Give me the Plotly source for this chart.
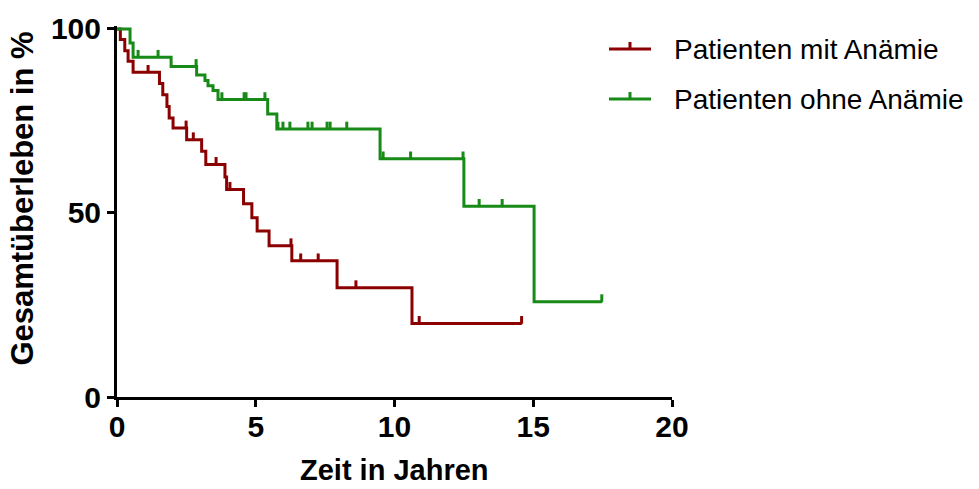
import numpy as np
import plotly.graph_objects as go

# Kaplan-Meier data: overall survival (%) over years
series_names = ["Patienten mit Anämie", "Patienten ohne Anämie"]
series_colors = ["#8b0000", "#178a17"]

# Patients with anemia
anemia_event_years = [0.12, 0.28, 0.40, 0.58, 1.53, 1.65, 1.80, 1.88, 2.02, 2.51,
                      3.05, 3.20, 3.89, 3.95, 4.56, 4.86, 5.05, 5.48, 6.30, 7.93, 10.63]
anemia_survival = [97.1, 94.1, 91.2, 88.2, 85.2, 82.1, 78.9, 75.8, 73.1, 69.9,
                   66.8, 63.2, 59.8, 56.4, 52.5, 48.7, 45.1, 41.1, 37.0, 29.7, 20.0]
anemia_censored_years = [1.12, 2.49, 2.75, 3.57, 4.07, 6.27, 6.62, 7.25, 8.61, 10.89, 14.58]
anemia_last_year = 14.58

# Patients without anemia
no_anemia_event_years = [0.47, 0.58, 1.95, 2.87, 3.17, 3.28, 3.46, 3.64, 5.43, 5.76,
                         9.48, 12.50, 15.03]
no_anemia_survival = [96.2, 92.3, 89.8, 87.5, 86.0, 84.6, 83.3, 80.8, 76.9, 72.8,
                      64.7, 51.8, 25.9]
no_anemia_censored_years = [0.76, 1.48, 2.85, 3.78, 4.58, 4.65, 5.33, 5.80, 5.98, 6.23,
                            6.88, 7.03, 7.57, 7.68, 8.28, 9.59, 10.58, 12.47, 13.05,
                            13.88, 17.47]
no_anemia_last_year = 17.47

x_ticks = [0, 5, 10, 15, 20]
y_ticks = [0, 50, 100]

groups = [
    (anemia_event_years, anemia_survival, anemia_censored_years, anemia_last_year),
    (no_anemia_event_years, no_anemia_survival, no_anemia_censored_years, no_anemia_last_year),
]


def survival_at(event_years, survival, t):
    idx = np.searchsorted(event_years, t, side="right") - 1
    return 100.0 if idx < 0 else survival[idx]


FAMILY = "Liberation Sans, Arial, sans-serif"
TICK_FONT = dict(family=FAMILY, size=30, color="black", weight="bold")
TITLE_FONT = dict(family=FAMILY, size=31, color="black", weight="bold")
XTITLE_FONT = dict(family=FAMILY, size=29, color="black", weight="bold")
LEGEND_FONT = dict(family=FAMILY, size=28, color="black")

fig = go.Figure()

for (ev_t, ev_s, cens_t, last_t), name, color in zip(groups, series_names, series_colors):
    xs = [0.0] + list(ev_t) + [last_t]
    ys = [100.0] + list(ev_s) + [ev_s[-1]]
    fig.add_trace(go.Scatter(
        x=xs, y=ys, mode="lines", name=name, showlegend=False,
        line=dict(color=color, width=3, shape="hv"),
    ))
    # censoring marks as short upward ticks
    cy = [survival_at(ev_t, ev_s, t) for t in cens_t]
    fig.add_trace(go.Scatter(
        x=cens_t, y=cy, mode="markers", showlegend=False, cliponaxis=False,
        marker=dict(size=2, color=color),
        error_y=dict(type="constant", symmetric=False, value=2.0, valueminus=0,
                     width=0, thickness=3, color=color),
    ))

# legend drawn as line + tick + label
legend_y = [0.938, 0.803]
for name, color, ly in zip(series_names, series_colors, legend_y):
    fig.add_shape(type="line", xref="paper", yref="paper", x0=0.8865, x1=0.9622,
                  y0=ly, y1=ly, line=dict(color=color, width=3))
    fig.add_shape(type="line", xref="paper", yref="paper", x0=0.9243, x1=0.9243,
                  y0=ly, y1=ly + 0.019, line=dict(color=color, width=3))
    fig.add_annotation(text=name, xref="paper", yref="paper", x=1.0, y=ly,
                       xanchor="left", yanchor="middle", showarrow=False, font=LEGEND_FONT)

fig.add_annotation(text="Gesamtüberleben in %", xref="paper", yref="paper",
                   x=-0.171, y=0.535, textangle=-90, showarrow=False,
                   xanchor="center", yanchor="middle", font=TITLE_FONT)
fig.add_annotation(text="Zeit in Jahren", xref="paper", yref="paper",
                   x=0.5, y=-0.197, showarrow=False,
                   xanchor="center", yanchor="middle", font=XTITLE_FONT)

fig.update_xaxes(range=[0, 20], tickvals=x_ticks, ticks="outside", ticklen=7,
                 tickwidth=3, tickcolor="black", showline=True, linewidth=3,
                 linecolor="black", showgrid=False, zeroline=False, tickfont=TICK_FONT,
                 ticklabelstandoff=-6)
fig.update_yaxes(range=[0, 100.8], tickvals=y_ticks, ticks="outside", ticklen=7,
                 tickwidth=3, tickcolor="black", showline=True, linewidth=3,
                 linecolor="black", showgrid=False, zeroline=False, tickfont=TICK_FONT)

fig.update_layout(
    width=979, height=489,
    margin=dict(l=117, r=307, t=24, b=92),
    plot_bgcolor="white", paper_bgcolor="white",
    showlegend=False,
)

fig.write_html("out.html")
